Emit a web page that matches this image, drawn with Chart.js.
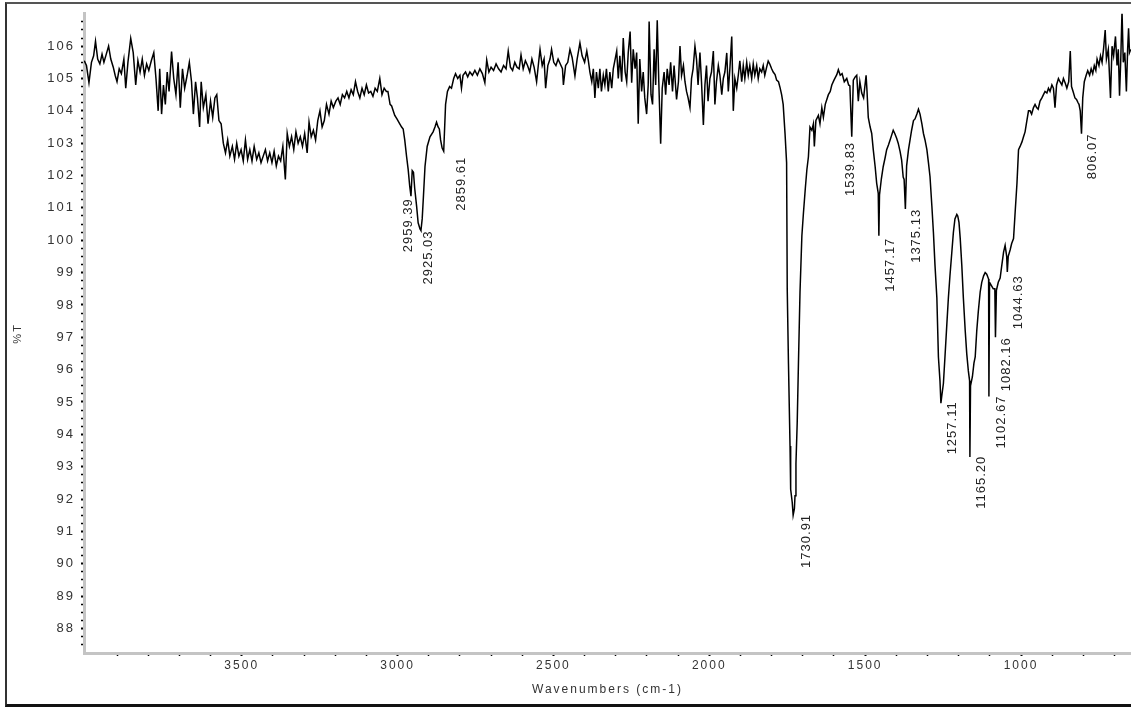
<!DOCTYPE html>
<html>
<head>
<meta charset="utf-8">
<script src="https://cdn.jsdelivr.net/npm/chart.js@4.4.1/dist/chart.umd.min.js"></script>
<style>
  html, body { margin: 0; padding: 0; background: #fff; }
  #wrap { position: relative; width: 1131px; height: 707px; overflow: hidden; }
  #frame {
    position: absolute; left: 5px; top: 2px; width: 1200px; height: 700px;
    border-left: 2px solid #333; border-top: 2px solid #555; border-bottom: 3px solid #111;
  }
  #spectrum { position: absolute; left: 0; top: 0; }
</style>
</head>
<body>
<div id="wrap">
  <div id="frame"></div>
  <canvas id="spectrum" width="1131" height="707"></canvas>
</div>
<script>
// spectrum: wavenumber (cm-1) and %T
const wavenumber = [
  4005, 3998, 3990, 3982, 3975, 3969, 3962, 3955, 3948, 3942, 3936, 3927, 3920, 3912, 3906, 3900,
  3893, 3886, 3878, 3872, 3865, 3856, 3848, 3840, 3833, 3826, 3819, 3812, 3805, 3798, 3790, 3782,
  3775, 3768, 3763, 3757, 3751, 3745, 3739, 3733, 3725, 3718, 3711, 3704, 3697, 3690, 3683, 3675,
  3668, 3661, 3655, 3648, 3642, 3635, 3630, 3623, 3615, 3608, 3600, 3593, 3586, 3580, 3573, 3566,
  3559, 3552, 3545, 3538, 3530, 3523, 3516, 3509, 3502, 3495, 3488, 3481, 3474, 3467, 3460, 3452,
  3445, 3438, 3431, 3424, 3417, 3410, 3403, 3396, 3389, 3382, 3375, 3368, 3360, 3354, 3347, 3340,
  3333, 3326, 3319, 3312, 3305, 3298, 3290, 3284, 3277, 3270, 3263, 3256, 3249, 3242, 3235, 3228,
  3220, 3213, 3206, 3198, 3191, 3184, 3177, 3170, 3163, 3156, 3149, 3142, 3135, 3128, 3121, 3114,
  3107, 3100, 3093, 3086, 3079, 3072, 3065, 3057, 3050, 3043, 3036, 3031, 3024, 3019, 3014, 3009,
  3002, 2993, 2987, 2982, 2977, 2971, 2966, 2961, 2957, 2953, 2949, 2945, 2939, 2934, 2928, 2925,
  2921, 2917, 2912, 2905, 2896, 2886, 2880, 2875, 2870, 2866, 2862, 2857, 2852, 2846, 2840, 2833,
  2827, 2820, 2814, 2807, 2800, 2795, 2790, 2782, 2775, 2768, 2760, 2752, 2744, 2736, 2728, 2720,
  2714, 2707, 2700, 2692, 2684, 2676, 2668, 2660, 2652, 2645, 2638, 2631, 2624, 2617, 2610, 2604,
  2597, 2590, 2583, 2576, 2569, 2562, 2554, 2547, 2543, 2536, 2530, 2525, 2518, 2511, 2506, 2499,
  2492, 2485, 2478, 2471, 2468, 2461, 2454, 2447, 2440, 2431, 2424, 2415, 2408, 2400, 2393, 2388,
  2383, 2377, 2372, 2367, 2362, 2356, 2351, 2346, 2340, 2335, 2330, 2324, 2319, 2313, 2308, 2302,
  2297, 2292, 2287, 2281, 2276, 2270, 2265, 2260, 2254, 2249, 2244, 2238, 2233, 2228, 2223, 2217,
  2212, 2207, 2201, 2196, 2193, 2187, 2182, 2177, 2172, 2167, 2162, 2156, 2151, 2145, 2140, 2135,
  2129, 2124, 2118, 2113, 2105, 2099, 2094, 2089, 2083, 2078, 2073, 2068, 2062, 2057, 2052, 2046,
  2041, 2036, 2030, 2025, 2019, 2014, 2009, 2004, 1998, 1993, 1987, 1982, 1977, 1971, 1966, 1960,
  1955, 1950, 1944, 1939, 1934, 1928, 1923, 1918, 1912, 1907, 1902, 1896, 1891, 1886, 1880, 1875,
  1870, 1864, 1859, 1854, 1848, 1843, 1838, 1832, 1827, 1822, 1816, 1811, 1806, 1800, 1795, 1789,
  1784, 1778, 1773, 1768, 1763, 1757, 1752, 1750, 1746, 1741, 1739, 1734, 1731, 1727, 1725, 1722,
  1718, 1714, 1709, 1703, 1698, 1692, 1687, 1682, 1677, 1671, 1666, 1663, 1658, 1650, 1645, 1639,
  1634, 1628, 1618, 1612, 1607, 1600, 1591, 1586, 1580, 1574, 1567, 1559, 1553, 1549, 1543, 1538,
  1532, 1527, 1522, 1517, 1511, 1505, 1497, 1494, 1490, 1484, 1479, 1474, 1468, 1463, 1458, 1456,
  1454, 1448, 1442, 1436, 1431, 1425, 1420, 1415, 1410, 1405, 1399, 1394, 1388, 1383, 1378, 1375,
  1371, 1367, 1361, 1356, 1351, 1345, 1340, 1334, 1329, 1324, 1318, 1313, 1308, 1302, 1297, 1292,
  1286, 1281, 1276, 1270, 1265, 1260, 1257, 1254, 1249, 1244, 1238, 1233, 1228, 1222, 1217, 1212,
  1206, 1203, 1199, 1195, 1190, 1185, 1179, 1174, 1169, 1165, 1164, 1162, 1156, 1151, 1147, 1142,
  1137, 1131, 1126, 1120, 1115, 1110, 1104, 1103, 1101, 1095, 1089, 1084, 1082, 1079, 1073, 1067,
  1062, 1056, 1051, 1046, 1044, 1041, 1035, 1030, 1024, 1019, 1013, 1008, 1003, 997, 992, 987,
  982, 976, 971, 966, 960, 955, 950, 945, 939, 933, 928, 923, 917, 912, 907, 901,
  896, 891, 886, 880, 875, 869, 864, 858, 853, 847, 842, 838, 833, 827, 822, 817,
  814, 810, 806, 802, 797, 791, 786, 780, 775, 770, 765, 760, 756, 750, 745, 740,
  735, 730, 726, 720, 713, 708, 703, 697, 692, 688, 684, 680, 676, 672, 667, 662,
  658, 655, 652, 648
];
const transmittance = [
  105.55, 105.4, 104.87, 105.5, 105.7, 106.15, 105.6, 105.45, 105.75, 105.5, 105.7, 106.0, 105.6, 105.35, 105.1, 104.9,
  105.3, 105.15, 105.6, 104.7, 105.5, 106.24, 105.8, 104.8, 105.55, 105.2, 105.6, 105.1, 105.45, 105.25, 105.55, 105.8,
  105.0, 104.0, 105.3, 103.9, 104.8, 104.2, 105.2, 104.6, 105.83, 105.0, 104.5, 105.5, 104.1, 105.3, 104.7, 105.1,
  105.5, 104.9, 103.9, 104.9, 104.4, 103.5, 104.9, 104.1, 104.5, 103.6, 104.3, 103.8, 104.4, 104.5, 103.7, 103.6,
  103.0, 102.7, 103.1, 102.6, 102.9, 102.5, 103.0, 102.6, 102.8, 102.45, 103.1, 102.5, 102.8, 102.45, 102.9, 102.5,
  102.7, 102.4, 102.6, 102.8, 102.45, 102.7, 102.4, 102.75, 102.3, 102.6, 102.45, 102.9, 101.88, 103.3, 102.9, 103.2,
  102.8, 103.35, 103.0, 103.2, 102.9, 103.3, 102.7, 103.65, 103.2, 103.4, 103.1, 103.7, 104.0, 103.5, 103.7, 104.2,
  103.9, 104.3, 104.1, 104.3, 104.4, 104.2, 104.5, 104.4, 104.6, 104.4, 104.65, 104.5, 104.9, 104.6, 104.4, 104.7,
  104.5, 104.8, 104.55, 104.6, 104.45, 104.7, 104.6, 105.0, 104.5, 104.7, 104.6, 104.6, 104.2, 104.15, 104.0, 103.86,
  103.75, 103.6, 103.5, 103.44, 103.1, 102.58, 102.19, 101.67, 101.36, 102.15, 102.1, 101.6, 101.06, 100.54, 100.35, 100.3,
  100.66, 101.36, 102.28, 102.9, 103.2, 103.35, 103.5, 103.65, 103.5, 103.44, 103.1, 102.85, 102.75, 104.2, 104.6, 104.75,
  104.7, 105.0, 105.15, 105.0, 105.1, 104.7, 105.1, 105.2, 105.05, 105.2, 105.1, 105.25, 105.1, 105.3, 105.15, 104.87,
  105.57, 105.2, 105.35, 105.25, 105.45, 105.3, 105.2, 105.4, 105.3, 105.85, 105.35, 105.25, 105.5, 105.35, 105.3, 105.73,
  105.3, 105.55, 105.4, 105.2, 105.6, 105.35, 104.9, 105.55, 105.9, 105.4, 105.6, 104.7, 105.4, 105.6, 105.9, 105.5,
  105.4, 105.6, 105.45, 105.3, 104.8, 105.4, 105.5, 105.9, 105.65, 105.08, 105.6, 106.1, 105.7, 105.5, 105.85, 105.55,
  105.2, 104.9, 105.3, 104.4, 105.2, 104.7, 105.3, 104.6, 105.1, 104.8, 105.3, 104.6, 105.2, 104.7, 105.3, 105.6,
  105.85, 105.0, 105.7, 104.9, 106.25, 105.2, 104.9, 105.8, 106.45, 104.87, 105.9, 105.3, 105.8, 103.6, 105.6, 104.6,
  105.2, 104.4, 103.9, 104.8, 106.76, 104.5, 104.2, 105.9, 104.8, 106.8, 104.9, 102.98, 104.7, 105.2, 104.5, 105.3,
  104.8, 105.5, 104.6, 105.4, 104.35, 104.9, 106.0, 105.1, 105.4, 104.9, 104.6, 104.4, 104.1, 105.0, 105.3, 106.0,
  105.6, 104.8, 105.8, 104.9, 103.56, 104.8, 105.4, 104.3, 105.0, 105.2, 105.85, 104.2, 104.9, 105.4, 105.1, 104.5,
  105.0, 105.2, 105.79, 104.6, 105.3, 106.3, 104.0, 105.0, 104.7, 105.1, 105.55, 104.9, 105.4, 105.0, 105.5, 105.1,
  105.4, 105.0, 105.45, 105.1, 105.4, 105.0, 105.3, 105.2, 105.4, 105.1, 105.35, 105.54, 105.45, 105.3, 105.2, 105.12,
  104.95, 104.9, 104.72, 104.5, 104.2, 103.29, 102.4, 98.5, 96.18, 93.64, 92.3, 91.9, 91.5, 91.7, 92.1, 93.1,
  94.35, 96.2, 98.4, 100.14, 100.84, 101.6, 102.18, 102.58, 103.5, 103.4, 103.6, 102.9, 103.7, 103.86, 103.6, 104.1,
  103.8, 104.2, 104.5, 104.6, 104.8, 104.95, 105.12, 105.27, 105.1, 105.15, 104.9, 105.0, 104.8, 104.77, 103.2, 104.95,
  105.05, 105.1, 104.3, 104.9, 104.55, 104.4, 105.1, 104.6, 103.8, 103.5, 103.3, 102.8, 102.28, 101.76, 101.45, 100.14,
  101.4, 101.9, 102.28, 102.55, 102.8, 102.95, 103.1, 103.25, 103.4, 103.3, 103.15, 103.0, 102.75, 102.48, 101.95, 101.88,
  100.97, 102.3, 102.8, 103.1, 103.4, 103.7, 103.75, 103.9, 104.05, 103.9, 103.6, 103.3, 103.1, 102.8, 102.4, 101.97,
  101.06, 100.24, 99.23, 98.22, 96.39, 95.66, 94.96, 95.2, 95.57, 96.39, 97.4, 98.22, 98.9, 99.63, 100.24, 100.66,
  100.8, 100.75, 100.55, 100.05, 99.23, 98.22, 97.2, 96.48, 95.96, 95.66, 93.3, 95.5, 95.78, 96.2, 96.39, 97.2,
  97.8, 98.4, 98.7, 98.9, 99.0, 98.95, 98.8, 95.17, 98.7, 98.6, 98.5, 98.5, 97.0, 98.45, 98.7, 98.83,
  99.2, 99.63, 99.84, 99.5, 99.02, 99.5, 99.7, 99.9, 100.05, 100.84, 101.76, 102.8, 102.9, 103.04, 103.2, 103.35,
  103.65, 104.0, 104.0, 103.9, 104.1, 104.2, 104.1, 104.05, 104.3, 104.4, 104.5, 104.6, 104.55, 104.7, 104.6, 104.8,
  104.7, 104.1, 104.8, 105.0, 104.9, 104.8, 105.0, 104.85, 104.7, 104.9, 105.85, 104.75, 104.6, 104.4, 104.35, 104.25,
  104.2, 104.0, 103.29, 104.4, 104.9, 105.1, 105.24, 105.1, 105.3, 105.15, 105.4, 105.25, 105.6, 105.4, 105.7, 105.5,
  105.94, 106.5, 105.6, 105.9, 104.4, 106.0, 105.7, 106.3, 105.4, 105.9, 104.47, 105.6, 107.1, 105.5, 105.8, 104.6,
  105.9, 106.55, 105.8, 105.9
];

// peak annotations
const peakLabels = ["2959.39", "2925.03", "2859.61", "1730.91", "1539.83", "1457.17", "1375.13",
                    "1257.11", "1165.20", "1102.67", "1082.16", "1044.63", "806.07"];
const peakT = [101.3, 100.3, 102.58, 91.54, 103.04, 100.08, 100.97, 95.02, 93.34, 95.2, 97.0, 98.92, 103.3];
// horizontal nudge of each label in pixels
const labelDx = [-2, 7, 20, 13, -2, 12, 12, 12, 12, 12, 11, 11, 11];

const xMajor = [3500, 3000, 2500, 2000, 1500, 1000];

const peakLabelPlugin = {
    id: "peakLabels",
    beforeDraw(chart) {
        chart.ctx.letterSpacing = "2px";
    },
    afterDatasetsDraw(chart) {
        const { ctx, scales } = chart;
        ctx.save();
        ctx.letterSpacing = "1px";
        ctx.font = "13px 'Liberation Sans', Arial, sans-serif";
        ctx.fillStyle = "#222";
        ctx.textAlign = "right";
        ctx.textBaseline = "middle";
        peakLabels.forEach((txt, i) => {
            const x = scales.x.getPixelForValue(parseFloat(txt)) + labelDx[i];
            const y = scales.y.getPixelForValue(peakT[i]);
            ctx.save();
            ctx.translate(x, y);
            ctx.rotate(-Math.PI / 2);
            ctx.fillText(txt, 0, 0);
            ctx.restore();
        });
        ctx.restore();
    },
};

const spectrum = document.getElementById("spectrum");
const spectrumChart = new Chart(spectrum, {
    type: "line",
    data: {
        datasets: [
            {
                label: "%T",
                data: wavenumber.map((w, i) => ({ x: w, y: transmittance[i] })),
                borderColor: "#000",
                borderWidth: 1.5,
                pointRadius: 0,
                tension: 0,
                fill: false,
            },
        ],
    },
    options: {
        responsive: false,
        animation: false,
        events: [],
        layout: { padding: { left: 6, top: 5, right: 0, bottom: 3 } },
        plugins: {
            legend: { display: false },
            tooltip: { enabled: false },
        },
        scales: {
            x: {
                type: "linear",
                reverse: true,
                min: 647.2,
                max: 4005.9,
                afterBuildTicks: (scale) => {
                    const t = [];
                    for (let v = 700; v <= 3900; v += 100) t.push({ value: v });
                    scale.ticks = t;
                },
                afterFit: (scale) => { scale.height = 51; },
                border: { display: true, color: "#c4c4c4", width: 3 },
                grid: {
                    display: true,
                    drawOnChartArea: false,
                    drawTicks: true,
                    tickLength: 3,
                    tickColor: "#000",
                    tickWidth: (c) => (c.tick && c.tick.value % 500 === 0 ? 2 : 1.5),
                },
                ticks: {
                    autoSkip: false,
                    maxRotation: 0,
                    padding: 2,
                    color: "#333",
                    font: { family: "'Liberation Sans', Arial, sans-serif", size: 12 },
                    callback: (v) => (xMajor.includes(v) ? String(v) : ""),
                },
                title: {
                    display: true,
                    text: "Wavenumbers (cm-1)",
                    color: "#333",
                    font: { family: "'Liberation Sans', Arial, sans-serif", size: 12 },
                    padding: { top: 0, bottom: 7 },
                },
            },
            y: {
                type: "linear",
                min: 87.24,
                max: 107.0,
                afterBuildTicks: (scale) => {
                    const t = [];
                    for (let v = 87.5; v <= 106.8; v += 0.25) t.push({ value: Math.round(v * 100) / 100 });
                    scale.ticks = t;
                },
                afterFit: (scale) => { scale.width = 78; },
                border: { display: true, color: "#c4c4c4", width: 3 },
                grid: {
                    display: true,
                    drawOnChartArea: false,
                    drawTicks: true,
                    tickLength: 3,
                    tickColor: "#000",
                    tickWidth: (c) => (c.tick && Number.isInteger(c.tick.value) ? 2 : 1.5),
                },
                ticks: {
                    autoSkip: false,
                    padding: 6,
                    color: "#333",
                    font: { family: "'Liberation Sans', Arial, sans-serif", size: 13 },
                    callback: (v) => (Number.isInteger(v) ? String(v) : ""),
                },
                title: {
                    display: true,
                    text: "%T",
                    color: "#333",
                    font: { family: "'Liberation Sans', Arial, sans-serif", size: 11 },
                    padding: { top: 5, bottom: 0 },
                },
            },
        },
    },
    plugins: [peakLabelPlugin],
});
</script>
</body>
</html>
